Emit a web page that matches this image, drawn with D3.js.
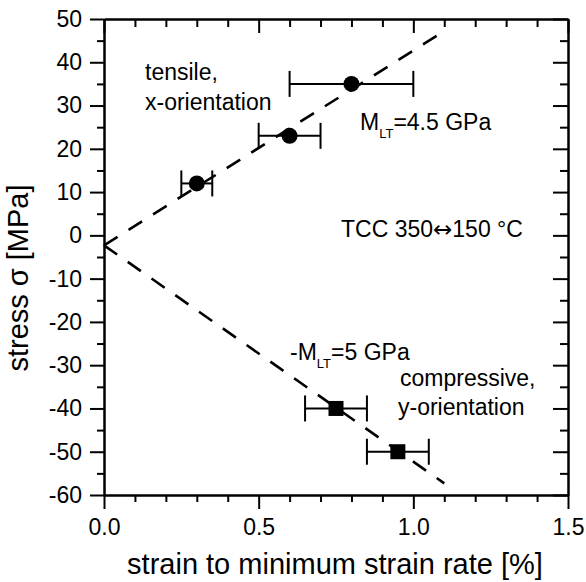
<!DOCTYPE html>
<html>
<head>
<meta charset="utf-8">
<script src="https://cdn.jsdelivr.net/npm/d3@7"></script>
<style>
  html, body { margin: 0; padding: 0; background: #fff; }
  svg { display: block; font-family: "Liberation Sans", Arial, sans-serif; }
</style>
</head>
<body>
<svg id="chart" width="586" height="582"></svg>
<script>
// Tensile samples (x-orientation): strain [%], stress [MPa], strain error [%]
const tensileStrain = [0.3, 0.6, 0.8];
const tensileStress = [12, 23, 35];
const tensileErr    = [0.05, 0.1, 0.2];

// Compressive samples (y-orientation)
const compStrain = [0.75, 0.95];
const compStress = [-40, -50];
const compErr    = [0.1, 0.1];

// Linear fits: stress = intercept + slope * strain, drawn over strain range
const fitIntercept = -2.3;
const tensileSlope = 45;   // MPa per %  (4.5 GPa)
const compSlope    = -50;  // MPa per %  (-5 GPa)
const fitRange     = [0, 1.1];

// Axis ticks
const xMajor = [0, 0.5, 1.0, 1.5];
const xMinor = [0.1, 0.2, 0.3, 0.4, 0.6, 0.7, 0.8, 0.9, 1.1, 1.2, 1.3, 1.4];
const yMajor = [-60, -50, -40, -30, -20, -10, 0, 10, 20, 30, 40, 50];
const yMinor = [-55, -45, -35, -25, -15, -5, 5, 15, 25, 35, 45];

const svg = d3.select("#chart");
const x = d3.scaleLinear().domain([0, 1.5]).range([104, 568]);
const y = d3.scaleLinear().domain([-60, 50]).range([495, 19]);

const tickFont = 23;
const yFormat = d => String(d);  // plain hyphen-minus for negatives

function styleAxis(g) {
  g.selectAll("path.domain").attr("stroke", "#000").attr("stroke-width", 2);
  g.selectAll(".tick line").attr("stroke", "#000").attr("stroke-width", 2);
  g.selectAll(".tick text").attr("fill", "#000")
    .style("font-size", tickFont + "px").style("font-family", '"Liberation Sans", Arial, sans-serif');
}

// Bottom axis
svg.append("g").attr("transform", `translate(0,${y(-60)})`)
  .call(d3.axisBottom(x).tickValues(xMinor).tickSize(7).tickFormat("").tickSizeOuter(0))
  .call(styleAxis);
svg.append("g").attr("transform", `translate(0,${y(-60)})`)
  .call(d3.axisBottom(x).tickValues(xMajor).tickSize(14).tickPadding(10).tickFormat(d3.format(".1f")).tickSizeOuter(0))
  .call(styleAxis);

// Top axis (ticks pointing inward, no labels)
svg.append("g").attr("transform", `translate(0,${y(50)})`)
  .call(d3.axisBottom(x).tickValues(xMinor).tickSize(8).tickFormat("").tickSizeOuter(0))
  .call(styleAxis);
svg.append("g").attr("transform", `translate(0,${y(50)})`)
  .call(d3.axisBottom(x).tickValues(xMajor).tickSize(14).tickFormat("").tickSizeOuter(0))
  .call(styleAxis);

// Left axis
svg.append("g").attr("transform", `translate(${x(0)},0)`)
  .call(d3.axisLeft(y).tickValues(yMinor).tickSize(7).tickFormat("").tickSizeOuter(0))
  .call(styleAxis);
svg.append("g").attr("transform", `translate(${x(0)},0)`)
  .call(d3.axisLeft(y).tickValues(yMajor).tickSize(14).tickPadding(8).tickFormat(yFormat).tickSizeOuter(0))
  .call(styleAxis);

// Right axis (ticks pointing inward, no labels)
svg.append("g").attr("transform", `translate(${x(1.5)},0)`)
  .call(d3.axisLeft(y).tickValues(yMinor).tickSize(8).tickFormat("").tickSizeOuter(0))
  .call(styleAxis);
svg.append("g").attr("transform", `translate(${x(1.5)},0)`)
  .call(d3.axisLeft(y).tickValues(yMajor).tickSize(15).tickFormat("").tickSizeOuter(0))
  .call(styleAxis);

// Fit lines (dashed)
const fitLine = d3.line().x(d => x(d[0])).y(d => y(d[1]));
[tensileSlope, compSlope].forEach(slope => {
  svg.append("path")
    .datum(fitRange.map(s => [s, fitIntercept + slope * s]))
    .attr("d", fitLine)
    .attr("fill", "none")
    .attr("stroke", "#000")
    .attr("stroke-width", 2.6)
    .attr("stroke-dasharray", "16,13");
});

// Horizontal error bars with end caps
function errorBars(xs, ys, es) {
  const g = svg.append("g").attr("stroke", "#000").attr("stroke-width", 2);
  xs.forEach((s, i) => {
    const cy = y(ys[i]);
    const x0 = x(s - es[i]), x1 = x(s + es[i]);
    g.append("line").attr("x1", x0).attr("x2", x1).attr("y1", cy).attr("y2", cy);
    g.append("line").attr("x1", x0).attr("x2", x0).attr("y1", cy - 13).attr("y2", cy + 13);
    g.append("line").attr("x1", x1).attr("x2", x1).attr("y1", cy - 13).attr("y2", cy + 13);
  });
}
errorBars(tensileStrain, tensileStress, tensileErr);
errorBars(compStrain, compStress, compErr);

// Markers
svg.append("g").selectAll("circle")
  .data(tensileStrain.map((s, i) => [s, tensileStress[i]]))
  .join("circle")
  .attr("cx", d => x(d[0])).attr("cy", d => y(d[1])).attr("r", 8)
  .attr("fill", "#000");

const sq = 15;
svg.append("g").selectAll("rect")
  .data(compStrain.map((s, i) => [s, compStress[i]]))
  .join("rect")
  .attr("x", d => x(d[0]) - sq / 2).attr("y", d => y(d[1]) - sq / 2)
  .attr("width", sq).attr("height", sq)
  .attr("fill", "#000");

// Axis titles
svg.append("text")
  .attr("x", 335).attr("y", 574)
  .attr("text-anchor", "middle")
  .style("font-size", "29px")
  .text("strain to minimum strain rate [%]");

svg.append("text")
  .attr("transform", "translate(28,278) rotate(-90)")
  .attr("text-anchor", "middle")
  .style("font-size", "29px")
  .text("stress σ [MPa]");

// Annotations
const annFont = "23px";
function label(tx, ty, str) {
  return svg.append("text").attr("x", tx).attr("y", ty).style("font-size", annFont).text(str);
}
label(145, 80, "tensile,");
label(145, 110, "x-orientation");
label(400, 386, "compressive,");
label(398, 415, "y-orientation");

const tcc = svg.append("text").attr("x", 341).attr("y", 237).style("font-size", annFont);
tcc.append("tspan").text("TCC 350");
tcc.append("tspan").style("font-family", '"DejaVu Sans", sans-serif').style("font-size", "23px").text("\u2194");
tcc.append("tspan").text("150 °C");

function modulus(tx, ty, prefix, rest) {
  const t = svg.append("text").attr("x", tx).attr("y", ty).style("font-size", annFont);
  t.append("tspan").text(prefix + "M");
  t.append("tspan").attr("dy", 8).style("font-size", "13px").text("LT");
  t.append("tspan").attr("dy", -8).text(rest);
}
modulus(360, 130, "", "=4.5 GPa");
modulus(290, 360, "-", "=5 GPa");
</script>
</body>
</html>
